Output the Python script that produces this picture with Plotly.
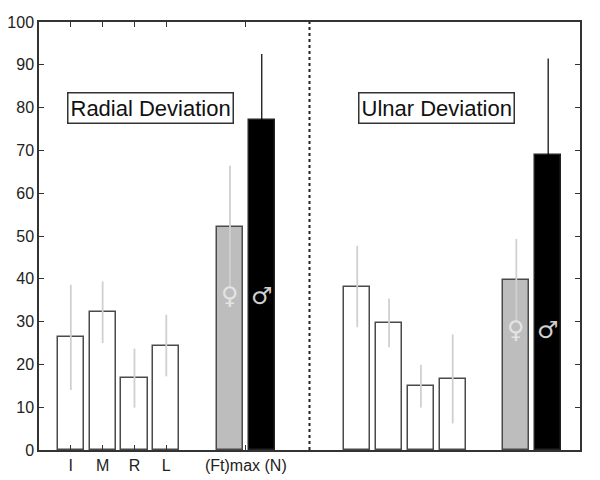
import plotly.graph_objects as go

# ---- data ----
white_x = [1, 2, 3, 4, 10, 11, 12, 13]
white_vals = [26.3, 32.2, 16.8, 24.4, 38.2, 29.7, 14.9, 16.6]
white_err = [12.3, 7.2, 6.9, 7.2, 9.5, 5.7, 5.0, 10.4]

female_x = [6, 15]
female_vals = [52.2, 39.7]
female_err = [14.2, 9.6]

male_x = [7, 16]
male_vals = [77.0, 69.0]
male_err = [15.5, 22.5]

tick_vals = [1, 2, 3, 4, 6.5]
tick_text = ["I", "M", "R", "L", "(Ft)max (N)"]

panel_titles = ["Radial Deviation", "Ulnar Deviation"]
panel_title_x = [3.5, 12.5]
divider_x = 8.5
symbol_y = [36, 28]

fig = go.Figure()
outline = dict(color="#4a4a4a", width=1.5)
bw = 0.82

fig.add_trace(go.Bar(x=white_x, y=white_vals, width=bw,
                     marker=dict(color="white", line=outline),
                     error_y=dict(type="data", array=white_err, color="#d0d0d0", thickness=1.8, width=0),
                     showlegend=False))
fig.add_trace(go.Bar(x=female_x, y=female_vals, width=bw,
                     marker=dict(color="#bdbdbd", line=outline),
                     error_y=dict(type="data", array=female_err, color="#d0d0d0", thickness=1.8, width=0),
                     showlegend=False))
fig.add_trace(go.Bar(x=male_x, y=male_vals, width=bw,
                     marker=dict(color="black", line=dict(color="#222", width=1.5)),
                     error_y=dict(type="data", array=male_err, color="black", thickness=1.2, width=0),
                     showlegend=False))

fig.add_shape(type="line", x0=divider_x, x1=divider_x, y0=0, y1=1, yref="paper",
              line=dict(color="#222", width=2, dash="dot"))

for t, tx in zip(panel_titles, panel_title_x):
    fig.add_annotation(x=tx, y=80, text=t, showarrow=False,
                       font=dict(family="Liberation Sans, Arial", size=22, color="#111"),
                       bordercolor="#333", borderwidth=1.5, borderpad=2, bgcolor="white")

for fx, mx, sy in zip(female_x, male_x, symbol_y):
    fig.add_annotation(x=fx, y=sy, text="♀", showarrow=False,
                       font=dict(family="DejaVu Sans", size=24, color="#e4e4e4"))
    fig.add_annotation(x=mx, y=sy, text="♂", showarrow=False,
                       font=dict(family="DejaVu Sans", size=24, color="#d0d0d0"))

fig.update_layout(
    width=592, height=472,
    margin=dict(l=31, r=20, t=14, b=30, autoexpand=False),
    plot_bgcolor="white", paper_bgcolor="white",
    bargap=0,
    font=dict(family="Liberation Sans, Arial", size=16, color="#222"),
)
fig.update_xaxes(range=[0, 17], tickvals=tick_vals, ticktext=tick_text,
                 ticks="inside", ticklen=5, tickcolor="#333", mirror="ticks",
                 showline=True, linecolor="#333", linewidth=1.5, showgrid=False, zeroline=False,
                 tickfont=dict(size=16), automargin=False)
fig.update_yaxes(range=[0, 100], dtick=10,
                 ticks="inside", ticklen=5, tickcolor="#333", mirror="ticks",
                 showline=True, linecolor="#333", linewidth=1.5, showgrid=False, zeroline=False,
                 tickfont=dict(size=16), automargin=False)

fig.write_html("out.html")
